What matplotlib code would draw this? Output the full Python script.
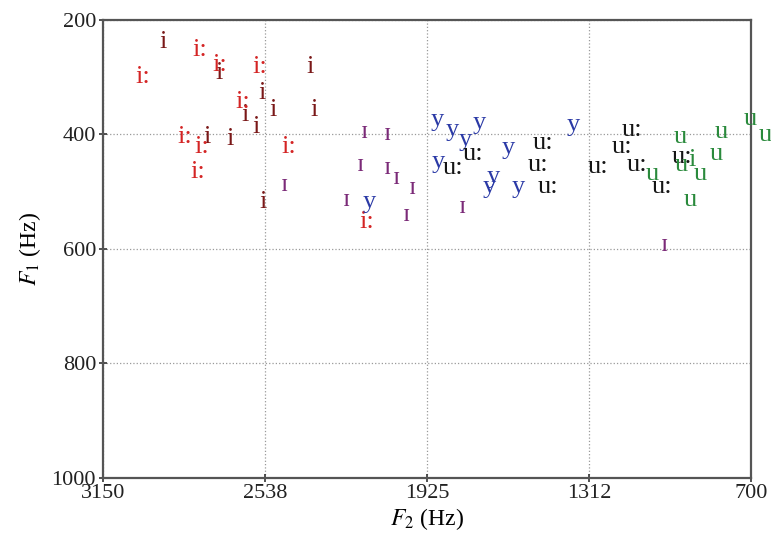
import matplotlib
matplotlib.use("Agg")
import matplotlib.pyplot as plt

plt.rcParams['font.family'] = ['Liberation Serif', 'DejaVu Serif']
plt.rcParams['mathtext.fontset'] = 'stix'

# vowel tokens: (F2, F1) in Hz
i_short_f2 = [2922, 2710, 2367, 2548, 2508, 2352, 2613, 2572, 2758, 2670, 2546]
i_short_f1 = [239, 294, 282, 329, 358, 358, 367, 387, 405, 408, 518]

i_long_f2 = [2786, 3000, 2708, 2556, 2622, 2840, 2777, 2449, 2793, 2153]
i_long_f1 = [253, 300, 279, 282, 344, 405, 422, 422, 466, 553]

ih_f2 = [2462, 2162, 2074, 2178, 2073, 2042, 1979, 2229, 2002, 1790, 1028]
ih_f1 = [489, 396, 399, 454, 460, 477, 495, 515, 542, 527, 594]

y_f2 = [2143, 1888, 1828, 1779, 1727, 1882, 1618, 1674, 1689, 1580, 1372]
y_f1 = [518, 376, 393, 410, 381, 448, 425, 475, 492, 492, 384]

u_long_f2 = [1750, 1825, 1485, 1504, 1466, 1277, 1151, 1189, 1132, 1038, 962]
u_long_f1 = [434, 460, 416, 454, 492, 457, 393, 422, 454, 492, 440]

u_short_f2 = [1072, 966, 962, 893, 931, 830, 811, 704, 647]
u_short_f1 = [469, 405, 454, 469, 515, 434, 396, 373, 402]

i_green_f2 = [924]
i_green_f1 = [445]

groups = [
    ("i", i_short_f2, i_short_f1, "#7a1818"),
    ("i:", i_long_f2, i_long_f1, "#d42424"),
    ("\u026a", ih_f2, ih_f1, "#7b2a78"),
    ("y", y_f2, y_f1, "#2b3aa6"),
    ("u:", u_long_f2, u_long_f1, "#151515"),
    ("u", u_short_f2, u_short_f1, "#2a8a3c"),
    ("i", i_green_f2, i_green_f1, "#2a8a3c"),
]

fig = plt.figure(figsize=(7.71, 5.49), dpi=100)
ax = fig.add_axes([0.1336, 0.1302, 0.8405, 0.834])

for sym, f2, f1, col in groups:
    for a, b in zip(f2, f1):
        ax.text(a, b, sym, color=col, fontsize=19, ha='center', va='center',
                clip_on=False)

ax.set_xlim(3150, 700)
ax.set_ylim(1000, 200)
ax.set_xticks([3150, 2538, 1925, 1312, 700])
ax.set_yticks([200, 400, 600, 800, 1000])
ax.grid(True, linestyle=':', color='#999999', linewidth=0.9)
ax.tick_params(labelsize=16, direction='inout', length=6, width=1.2, colors='#333333', pad=2)
ax.tick_params(labelcolor='#222222')
for s in ax.spines.values():
    s.set_linewidth(1.6)
    s.set_color('#555555')

ax.set_xlabel("$F_2$ (Hz)", fontsize=17, labelpad=2)
ax.set_ylabel("$F_1$ (Hz)", fontsize=17, labelpad=6)

fig.savefig("out.png", dpi=100)
